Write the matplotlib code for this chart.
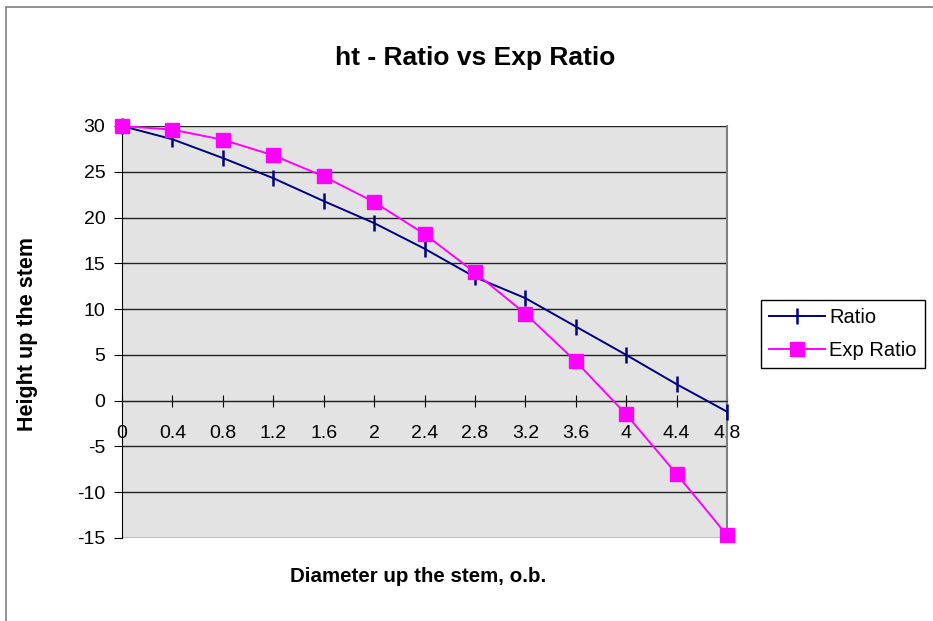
import matplotlib.pyplot as plt
from matplotlib.patches import Rectangle

plt.rcParams['font.family'] = ['Liberation Sans', 'DejaVu Sans']
plt.rcParams['axes.unicode_minus'] = False

# 数据
diameter = [0, 0.4, 0.8, 1.2, 1.6, 2.0, 2.4, 2.8, 3.2, 3.6, 4.0, 4.4, 4.8]
ratio = [30, 28.55, 26.5, 24.3, 21.8, 19.4, 16.6, 13.5, 11.2, 8.1, 5.0, 1.8, -1.2]
exp_ratio = [30, 29.6, 28.5, 26.8, 24.5, 21.7, 18.2, 14.0, 9.5, 4.3, -1.5, -8.0, -14.7]
x_labels = ['0', '0.4', '0.8', '1.2', '1.6', '2', '2.4', '2.8', '3.2', '3.6', '4', '4.4', '4.8']
y_ticks = [-15, -10, -5, 0, 5, 10, 15, 20, 25, 30]

W, H = 933, 621
fig = plt.figure(figsize=(W / 100, H / 100), dpi=100)
ax = fig.add_axes([122 / W, 1 - 538 / H, (727 - 122) / W, (538 - 126) / H])
ax.set_facecolor('#e3e3e3')

# 外框
fig.patches.append(Rectangle((6 / W, -0.05), 1.1, 1 - 7 / H + 0.05, transform=fig.transFigure,
                             fill=False, edgecolor='#808080', linewidth=1.2, zorder=0))

# 网格线
for yv in y_ticks:
    ax.axhline(yv, color='#222222', linewidth=1.0, zorder=1)

ax.plot(diameter, ratio, color='#000080', linewidth=1.4, marker='|', markersize=11,
        markeredgewidth=1.8, label='Ratio', zorder=3, clip_on=False)
ax.plot(diameter, exp_ratio, color='#ff00ff', linewidth=1.4, marker='s', markersize=10,
        label='Exp Ratio', zorder=4, clip_on=False)

ax.set_xlim(0, 4.8)
ax.set_ylim(-15, 30)
ax.set_yticks(y_ticks)
ax.set_xticks(diameter)
ax.set_xticklabels(x_labels)

ax.spines['bottom'].set_position(('data', 0))
ax.spines['bottom'].set_color('#222222')
ax.spines['left'].set_color('black')
ax.spines['top'].set_visible(False)
ax.spines['right'].set_color('#808080')
ax.spines['right'].set_linewidth(1.5)

ax.tick_params(axis='x', direction='inout', length=9, labelsize=14, pad=13)
ax.tick_params(axis='y', direction='out', length=6, labelsize=14, pad=6)

fig.text(475 / W, 1 - 58 / H, 'ht - Ratio vs Exp Ratio', ha='center', va='center',
         fontsize=19, fontweight='bold')
fig.text(418 / W, 1 - 577 / H, 'Diameter up the stem, o.b.', ha='center', va='center',
         fontsize=14.8, fontweight='bold')
fig.text(28 / W, 1 - 334 / H, 'Height up the stem', ha='center', va='center', rotation=90,
         fontsize=15.5, fontweight='bold')

leg = fig.legend(loc='center', bbox_to_anchor=(843 / W, 1 - 334 / H), fontsize=14.5,
                 frameon=True, fancybox=False, edgecolor='black', framealpha=1,
                 handlelength=2.8, handletextpad=0.2, borderpad=0.4, labelspacing=0.7)
leg.get_frame().set_linewidth(1.0)

plt.savefig('out.png', dpi=100)
